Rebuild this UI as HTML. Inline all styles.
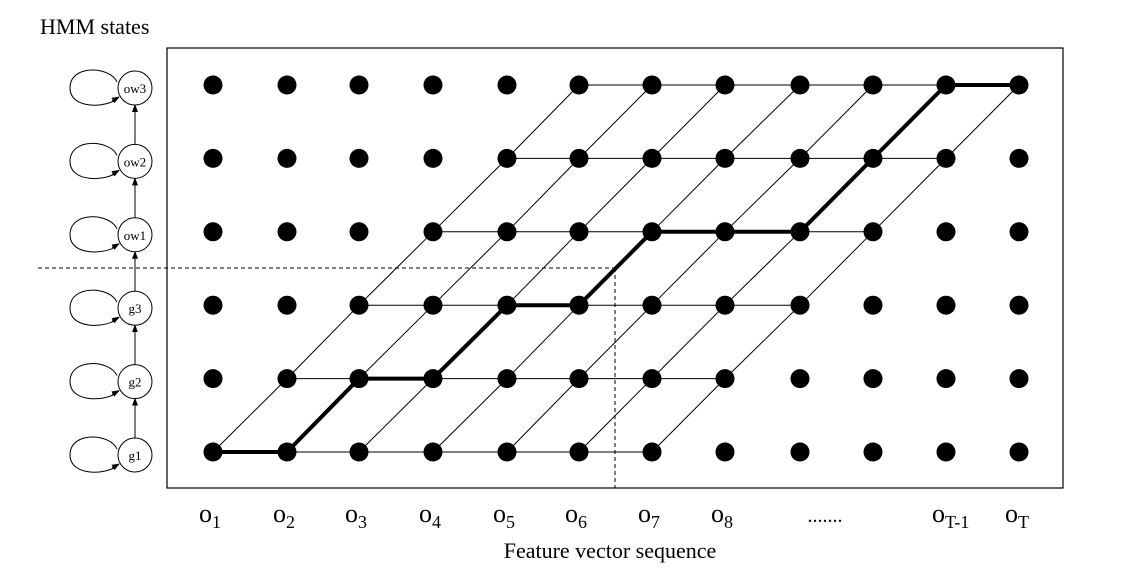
<!DOCTYPE html>
<html><head><meta charset="utf-8"><style>
html,body{margin:0;padding:0;background:#fff;}
svg{display:block;font-family:"Liberation Serif",serif;}
</style></head><body>
<svg id="c" width="1137" height="576" viewBox="0 0 1137 576">
<text x="40" y="34" font-size="22">HMM states</text>
<rect x="167" y="48" width="896" height="440" fill="none" stroke="#000" stroke-width="1.2"/>
<text x="610" y="558" font-size="22" text-anchor="middle">Feature vector sequence</text>
<g id="g"></g>
</svg>
<script>
const states = ["g1","g2","g3","ow1","ow2","ow3"];
const obsLabels = [["o","1"],["o","2"],["o","3"],["o","4"],["o","5"],["o","6"],["o","7"],["o","8"],["",""],["o","T-1"],["o","T"]];
const colX = [213,287,359,433,507,579,652,725,800,873,946,1019];
const labelCols = [0,1,2,3,4,5,6,7,8,10,11];
const pathStates = [0,0,1,1,2,2,3,3,3,4,5,5];
const bandWidth = 6;
const rowY = r => 452 - r*73.4;
const g = document.getElementById('g');
const NS = "http://www.w3.org/2000/svg";
function mk(tag, attrs){const e=document.createElementNS(NS,tag);for(const k in attrs)e.setAttribute(k,attrs[k]);g.appendChild(e);return e;}
for(let r=0;r<states.length;r++){
  const l=mk('line',{x1:colX[r],y1:rowY(r),x2:colX[r+bandWidth],y2:rowY(r),stroke:'#000','stroke-width':1});
  
  
  if(r<states.length-1){
    for(let c=r;c<=r+bandWidth;c++){
      const d=mk('line',{x1:colX[c],y1:rowY(r),x2:colX[c+1],y2:rowY(r+1),stroke:'#000','stroke-width':1});
      
      
    }
  }
}
let pts=pathStates.map((s,i)=>colX[i]+','+rowY(s)).join(' ');
const p=mk('polyline',{points:pts,fill:'none',stroke:'#000','stroke-width':4,'stroke-linejoin':'round'});


const dh=mk('line',{x1:38,y1:268,x2:615,y2:268,stroke:'#000','stroke-dasharray':'4,3','stroke-width':1});


const dv=mk('line',{x1:615,y1:268,x2:615,y2:488,stroke:'#000','stroke-dasharray':'4,3','stroke-width':1});


for(let r=0;r<states.length;r++)for(let c=0;c<colX.length;c++){
  const d=mk('circle',{cx:colX[c],cy:rowY(r),r:9.5,fill:'#000'});
  
  
}
mk('defs',{}).innerHTML='<marker id="ah" markerWidth="8" markerHeight="8" refX="7" refY="4" orient="auto" markerUnits="userSpaceOnUse"><path d="M0,1 L8,4 L0,7 Z" fill="#000"/></marker>';
for(let r=0;r<states.length;r++){
  const y=rowY(r)+3;
  const e=mk('path',{d:`M118,${y+10} C108,${y+20} 70,${y+22} 70,${y} C70,${y-24} 110,${y-22} 117,${y-6}`,fill:'none',stroke:'#000','stroke-width':1});
  
  
  const a=mk('path',{d:`M112,${y+13} L119,${y+9}`,stroke:'#000','marker-end':'url(#ah)'});
  
  
  const c=mk('circle',{cx:135,cy:y,r:17,fill:'#fff',stroke:'#000','stroke-width':1});
  
  
  const t=mk('text',{x:135,y:y+5,'font-size':13,'text-anchor':'middle'});
  t.textContent=states[r];
  
  
  if(r<states.length-1){
    const ar=mk('line',{x1:135,y1:y-17,x2:135,y2:rowY(r+1)+3+17,stroke:'#000','marker-end':'url(#ah)'});
    
    
  }
}
obsLabels.forEach((lb,i)=>{
  const x=colX[labelCols[i]];
  const t=mk('text',{x:x-6,y:522,'font-size':26,'text-anchor':'middle'});
  
  
  if(lb[0]===''){t.setAttribute('x',x+25);t.setAttribute('font-size',20);t.textContent='.......';return;}
  t.textContent=lb[0];
  const s=document.createElementNS(NS,'tspan');s.setAttribute('font-size',18);s.setAttribute('dy',6);s.textContent=lb[1];t.appendChild(s);
  t.setAttribute('text-anchor','start');t.setAttribute('x',x-14);
});
</script>
</body></html>
